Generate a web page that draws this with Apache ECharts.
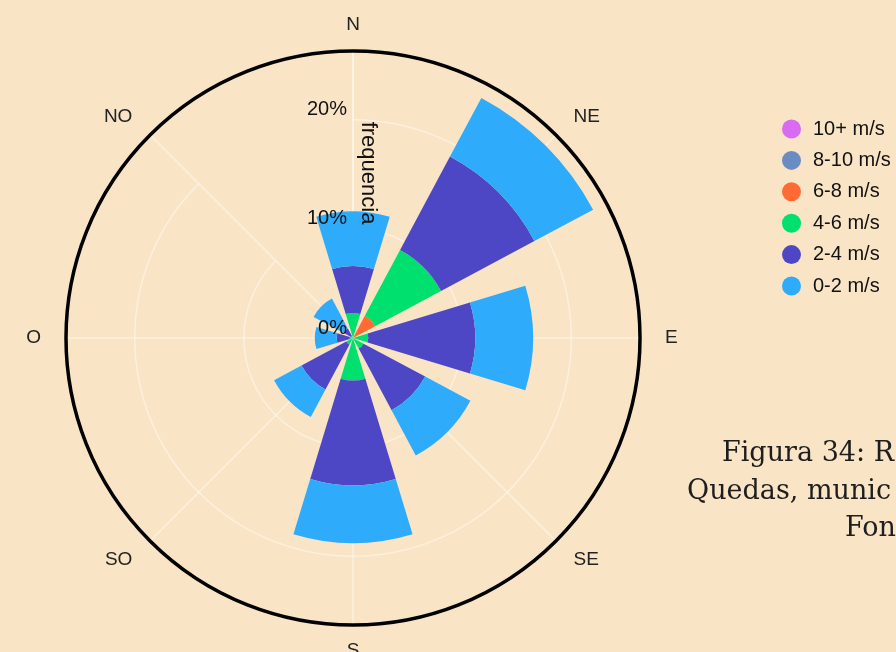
<!DOCTYPE html>
<html>
<head>
<meta charset="utf-8">
<script src="https://cdn.jsdelivr.net/npm/echarts@6/dist/echarts.min.js"></script>
<style>
  html, body { margin: 0; padding: 0; background: #f9e4c5; }
  #main { width: 896px; height: 652px; }
</style>
</head>
<body>
<div id="main"></div>
<script>
// wind directions (pt-BR)
const directions = ["N", "NE", "E", "SE", "S", "SO", "O", "NO"];
// frequency (%) per speed class, stacked from the centre outwards
const speed10plus = [0, 0, 0, 0, 0, 0, 0, 0];
const speed8to10 = [0, 0, 0, 0, 0, 0, 0, 0];
const speed6to8 = [0, 2.3, 0, 0, 0, 0, 0, 0];
const speed4to6 = [2.3, 6.85, 1.4, 1.1, 3.9, 0.7, 0.3, 0.2];
const speed2to4 = [4.3, 9.7, 9.8, 6.4, 9.6, 4.65, 1.2, 0.8];
const speed0to2 = [5.0, 6.1, 5.3, 4.7, 5.3, 2.85, 2.0, 3.1];
const speedNames = ["10+ m/s", "8-10 m/s", "6-8 m/s", "4-6 m/s", "2-4 m/s", "0-2 m/s"];
const speedColors = ["#d96af2", "#6b8cc2", "#ff6a35", "#00e06e", "#4d47c6", "#2eabfb"];
const captionLines = ["Figura 34: R", "Quedas, munic", "Fon"];

const chartDom = document.getElementById("main");
const myChart = echarts.init(chartDom);

const gridLine = { color: "rgba(255,255,255,0.45)", width: 1.5 };

const seriesData = [speed10plus, speed8to10, speed6to8, speed4to6, speed2to4, speed0to2];
const seriesList = seriesData.map((vals, i) => ({
  type: "bar",
  name: speedNames[i],
  coordinateSystem: "polar",
  polarIndex: 0,
  stack: "vento",
  barCategoryGap: "25%",
  itemStyle: { color: speedColors[i] },
  data: vals,
}));

const option = {
  backgroundColor: "#f9e4c5",
  animation: false,
  // polar 0: bars + grid underneath, polar 1: black rim + % labels on top
  polar: [
    { center: [353, 338], radius: 287 },
    { center: [353, 338], radius: 287 },
  ],
  angleAxis: [
    {
      polarIndex: 0,
      type: "category",
      data: directions,
      boundaryGap: false,
      startAngle: 90,
      clockwise: true,
      axisLine: { show: false },
      axisTick: { show: false },
      axisLabel: {
        margin: 25,
        fontSize: 19,
        lineHeight: 2,
        color: "#222",
        fontFamily: "Liberation Sans",
      },
      splitLine: { show: true, lineStyle: gridLine },
    },
    {
      polarIndex: 1,
      type: "value",
      min: 0,
      max: 360,
      startAngle: 90,
      axisLine: { show: true, lineStyle: { color: "#000", width: 3.5 } },
      axisTick: { show: false },
      axisLabel: { show: false },
      splitLine: { show: false },
      z: 10,
    },
  ],
  radiusAxis: [
    {
      polarIndex: 0,
      min: 0,
      max: 26.3,
      interval: 10,
      axisLine: { show: true, lineStyle: gridLine },
      axisTick: { show: false },
      axisLabel: { show: false },
      splitLine: { show: true, lineStyle: gridLine },
    },
    {
      polarIndex: 1,
      min: 0,
      max: 26.3,
      interval: 10,
      axisLine: { show: false },
      axisTick: { show: false },
      splitLine: { show: false },
      axisLabel: {
        formatter: "{value}%",
        showMaxLabel: false,
        margin: 6,
        fontSize: 20,
        color: "#111",
        fontFamily: "Liberation Sans",
        verticalAlign: "bottom",
      },
      z: 10,
    },
  ],
  legend: {
    orient: "vertical",
    left: 777,
    top: 114,
    icon: "circle",
    itemWidth: 19,
    itemHeight: 19,
    itemGap: 11.4,
    textStyle: {
      fontSize: 20,
      lineHeight: 20,
      color: "#111",
      fontFamily: "Liberation Sans",
      padding: [0, 0, 0, 7],
    },
    data: speedNames,
  },
  graphic: [
    {
      type: "text",
      rotation: -Math.PI / 2,
      x: 368,
      y: 173,
      style: {
        text: "frequencia",
        fontSize: 22,
        fontFamily: "Liberation Sans",
        fill: "#111",
        align: "center",
        verticalAlign: "middle",
      },
      z: 20,
    },
    {
      type: "text",
      left: 722,
      top: 440,
      style: { text: captionLines[0], fontSize: 27, fontFamily: "DejaVu Serif", fill: "#1e1e1e" },
    },
    {
      type: "text",
      left: 687,
      top: 478,
      style: { text: captionLines[1], fontSize: 27, fontFamily: "DejaVu Serif", fill: "#1e1e1e" },
    },
    {
      type: "text",
      left: 845,
      top: 515,
      style: { text: captionLines[2], fontSize: 27, fontFamily: "DejaVu Serif", fill: "#1e1e1e" },
    },
  ],
  series: seriesList,
};

myChart.setOption(option);
</script>
</body>
</html>
